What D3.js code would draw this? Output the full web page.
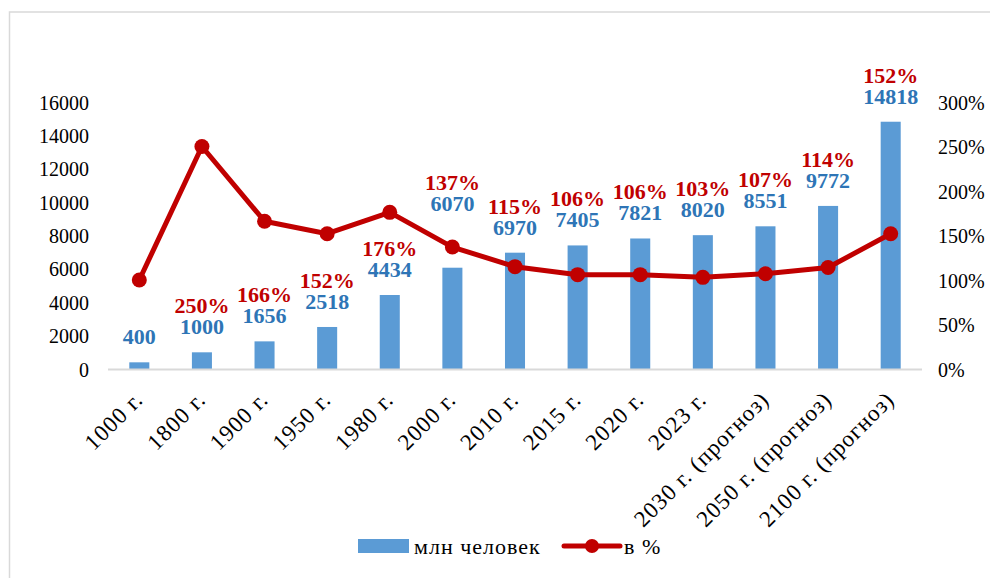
<!DOCTYPE html>
<html>
<head>
<meta charset="utf-8">
<script src="https://cdn.jsdelivr.net/npm/d3@7"></script>
<style>
  body { margin: 0; background: #fff; }
  svg text { font-family: "Liberation Serif", "Times New Roman", serif; }
</style>
</head>
<body>
<div id="chart"></div>
<script>
var categories = ["1000 г.", "1800 г.", "1900 г.", "1950 г.", "1980 г.", "2000 г.", "2010 г.",
    "2015 г.", "2020 г.", "2023 г.", "2030 г. (прогноз)", "2050 г. (прогноз)", "2100 г. (прогноз)"];
var population = [400, 1000, 1656, 2518, 4434, 6070, 6970, 7405, 7821, 8020, 8551, 9772, 14818];
var growth = [100, 250, 166, 152, 176, 137, 115, 106, 106, 103, 107, 114, 152];
var leftTicks = [0, 2000, 4000, 6000, 8000, 10000, 12000, 14000, 16000];
var rightTicks = [0, 50, 100, 150, 200, 250, 300];

var W = 990, H = 578;
var barColor = "#5b9bd5", labelBlue = "#2e75b6", red = "#c00000";
var serif = "Liberation Serif";

var svg = d3.select("#chart").append("svg")
    .attr("width", W).attr("height", H)
    .attr("font-family", serif);

// chart frame
svg.append("rect")
    .attr("x", 9.5).attr("y", 12)
    .attr("width", W + 20).attr("height", H + 20)
    .attr("fill", "none").attr("stroke", "#d9d9d9").attr("stroke-width", 1.5);

var x = d3.scaleBand().domain(categories).range([108, 922]).paddingInner(0.68).paddingOuter(0.34);
var y = d3.scaleLinear().domain([0, 16000]).range([369, 102]);
var y2 = d3.scaleLinear().domain([0, 300]).range([369, 102]);
var cx = function(c) { return x(c) + x.bandwidth() / 2; };

// left axis labels
svg.append("g")
    .attr("transform", "translate(89,0)")
    .call(d3.axisLeft(y).tickValues(leftTicks).tickSize(0).tickPadding(0).tickFormat(d3.format("d")))
    .call(function(g) { g.select(".domain").remove(); })
    .selectAll("text")
    .attr("font-size", 20).attr("fill", "#000").attr("dy", "0.35em")
    .attr("font-family", serif);

// right axis labels
svg.append("g")
    .attr("transform", "translate(938,0)")
    .call(d3.axisRight(y2).tickValues(rightTicks).tickSize(0).tickPadding(0).tickFormat(function(d) { return d + "%"; }))
    .call(function(g) { g.select(".domain").remove(); })
    .selectAll("text")
    .attr("font-size", 20).attr("fill", "#000").attr("dy", "0.35em")
    .attr("font-family", serif);

// bars
svg.append("g").selectAll("rect")
    .data(population)
    .enter().append("rect")
    .attr("x", function(d, i) { return x(categories[i]); })
    .attr("y", function(d) { return y(d); })
    .attr("width", x.bandwidth())
    .attr("height", function(d) { return y(0) - y(d); })
    .attr("fill", barColor);

// baseline
svg.append("line")
    .attr("x1", 108).attr("x2", 922)
    .attr("y1", 369.5).attr("y2", 369.5)
    .attr("stroke", "#d9d9d9").attr("stroke-width", 2);

// x labels
svg.append("g").selectAll("text")
    .data(categories)
    .enter().append("text")
    .attr("transform", function(d) { return "translate(" + (cx(d) + 5) + ",401) rotate(-45)"; })
    .attr("text-anchor", "end")
    .attr("font-size", 23)
    .attr("letter-spacing", 1)
    .attr("fill", "#000")
    .text(function(d) { return d; });

// line
var line = d3.line()
    .x(function(d, i) { return cx(categories[i]); })
    .y(function(d) { return y2(d); });

svg.append("path")
    .datum(growth)
    .attr("d", line)
    .attr("fill", "none")
    .attr("stroke", red)
    .attr("stroke-width", 5)
    .attr("stroke-linejoin", "round");

svg.append("g").selectAll("circle")
    .data(growth)
    .enter().append("circle")
    .attr("cx", function(d, i) { return cx(categories[i]); })
    .attr("cy", function(d) { return y2(d); })
    .attr("r", 7.5)
    .attr("fill", red);

// data labels: value above bar, percent above value; lift both if the marker sits just above the bar
function blueY(i) {
    var top = y(population[i]), m = y2(growth[i]);
    var base = top - 18;
    if (m < top && m > top - 60) base = m - 36;
    return base;
}

svg.append("g").selectAll("text")
    .data(population)
    .enter().append("text")
    .attr("x", function(d, i) { return cx(categories[i]); })
    .attr("y", function(d, i) { return blueY(i); })
    .attr("text-anchor", "middle")
    .attr("font-size", 22).attr("font-weight", "bold")
    .attr("fill", labelBlue)
    .text(function(d) { return d; });

// percent labels (first point has none)
svg.append("g").selectAll("text")
    .data(growth.map(function(d, i) { return {v: d, i: i}; }).slice(1))
    .enter().append("text")
    .attr("x", function(d) { return cx(categories[d.i]); })
    .attr("y", function(d) { return blueY(d.i) - 21; })
    .attr("text-anchor", "middle")
    .attr("font-size", 22).attr("font-weight", "bold")
    .attr("fill", red)
    .text(function(d) { return d.v + "%"; });

// legend
var lg = svg.append("g");
lg.append("rect").attr("x", 358).attr("y", 539).attr("width", 51).attr("height", 14).attr("fill", barColor);
lg.append("text").attr("x", 414).attr("y", 554).attr("font-size", 22).attr("letter-spacing", 1)
    .attr("fill", "#000").text("млн человек");
lg.append("line").attr("x1", 564).attr("x2", 620).attr("y1", 546).attr("y2", 546)
    .attr("stroke", red).attr("stroke-width", 5).attr("stroke-linecap", "round");
lg.append("circle").attr("cx", 592).attr("cy", 546).attr("r", 7).attr("fill", red);
lg.append("text").attr("x", 624).attr("y", 554).attr("font-size", 22).attr("letter-spacing", 1)
    .attr("fill", "#000").text("в %");
</script>
</body>
</html>
